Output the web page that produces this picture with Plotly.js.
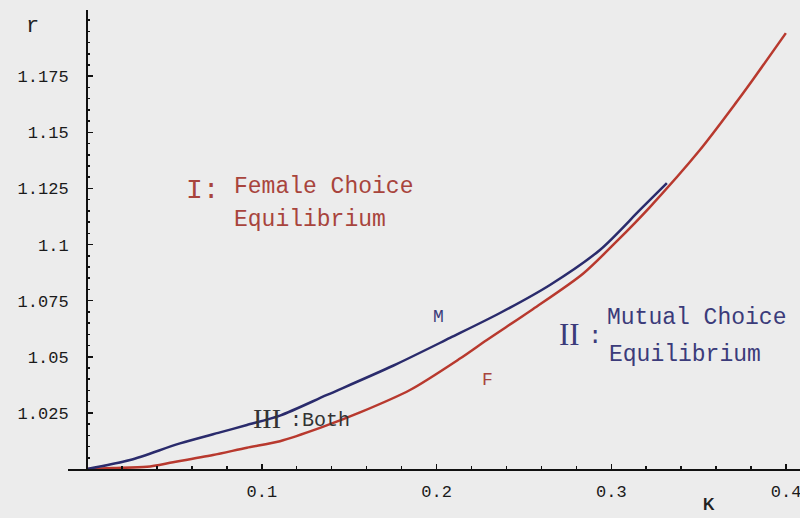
<!DOCTYPE html>
<html>
<head>
<meta charset="utf-8">
<script src="https://cdn.plot.ly/plotly-3.0.1.min.js"></script>
<style>html,body{margin:0;padding:0;background:#ececec;}</style>
</head>
<body>
<div id="chart" style="width:800px;height:518px;"></div>
<script>
// Curve M (Mutual choice boundary)
const mK = [0, 0.0246, 0.0532, 0.0761, 0.0915, 0.1104, 0.1373, 0.1751, 0.2077, 0.2363, 0.2649, 0.2935, 0.3164, 0.3318];
const mR = [1.0, 1.0040, 1.0114, 1.0163, 1.0196, 1.0238, 1.0330, 1.0460, 1.0584, 1.0695, 1.0820, 1.0976, 1.1154, 1.1274];
// Curve F (Female choice boundary)
const fK = [0, 0.0149, 0.0343, 0.0492, 0.0721, 0.0915, 0.1104, 0.1333, 0.1562, 0.1848, 0.2134, 0.2288, 0.2551, 0.2838, 0.3032, 0.3221, 0.3507, 0.3719, 0.3810, 0.3999];
const fR = [1.0, 1.0004, 1.0010, 1.0030, 1.0062, 1.0095, 1.0124, 1.0183, 1.0252, 1.0352, 1.0492, 1.0575, 1.0712, 1.0870, 1.1015, 1.1167, 1.1421, 1.1637, 1.1734, 1.1942];
// Tick labels
const xTickVals = [0.1, 0.2, 0.3, 0.4];
const xTickText = ["0.1", "0.2", "0.3", "0.4"];
const yTickVals = [1.025, 1.05, 1.075, 1.1, 1.125, 1.15, 1.175];
const yTickText = ["1.025", "1.05", "1.075", "1.1", "1.125", "1.15", "1.175"];

const blue = '#2a2b6c';
const red = '#b8392e';
const redText = '#a8443c';
const blueText = '#3b3b7a';
const mono = 'Liberation Mono, Courier New, monospace';
const serif = 'Liberation Serif, Times New Roman, serif';

const traces = [
  {x: fK, y: fR, mode: 'lines', line: {color: red, width: 2.5, shape: 'spline', smoothing: 0.8}, hoverinfo: 'skip'},
  {x: mK, y: mR, mode: 'lines', line: {color: blue, width: 2.5, shape: 'spline', smoothing: 0.8}, hoverinfo: 'skip'}
];

const layout = {
  width: 800, height: 518,
  margin: {l: 68, r: 0, t: 10, b: 49},
  paper_bgcolor: '#ececec',
  plot_bgcolor: '#ececec',
  showlegend: false,
  xaxis: {
    range: [-0.0109, 0.408],
    showgrid: false, zeroline: false,
    showline: true, linecolor: '#111', linewidth: 2,
    ticks: 'inside', ticklen: 5, tickwidth: 1.5, tickcolor: '#111',
    tickvals: xTickVals, ticktext: xTickText,
    tickfont: {family: mono, size: 17, color: '#1a1a1a'},
    ticklabelstandoff: 6,
    ticklabeloverflow: 'allow',
    minor: {dtick: 0.02, ticks: 'inside', ticklen: 3, tickcolor: '#111', showgrid: false}
  },
  yaxis: {
    range: [1.0, 1.2045],
    anchor: 'free', position: 0.026,
    showgrid: false, zeroline: false,
    showline: true, linecolor: '#111', linewidth: 2,
    ticks: 'inside', ticklen: 5, tickwidth: 1.5, tickcolor: '#111',
    tickvals: yTickVals, ticktext: yTickText,
    tickfont: {family: mono, size: 17, color: '#1a1a1a'},
    ticklabelstandoff: 14,
    minor: {dtick: 0.005, ticks: 'inside', ticklen: 2, tickcolor: '#111', showgrid: false}
  },
  annotations: [
    {x: -0.060, y: 0.995, xref: 'paper', yref: 'paper', text: 'r', showarrow: false, font: {family: mono, size: 22, color: '#222'}},
    {x: 0.886, y: -0.100, xref: 'paper', yref: 'paper', text: '<b>K</b>', showarrow: false, font: {family: 'Liberation Sans, Arial', size: 16, color: '#222'}},
    {x: 0.0664, y: 1.1243, xref: 'x', yref: 'y', text: 'I:', showarrow: false, font: {family: mono, size: 28, color: redText}},
    {x: 0.0830, y: 1.1256, xref: 'x', yref: 'y', xanchor: 'left', text: 'Female Choice', showarrow: false, font: {family: mono, size: 23, color: redText}},
    {x: 0.0830, y: 1.1109, xref: 'x', yref: 'y', xanchor: 'left', text: 'Equilibrium', showarrow: false, font: {family: mono, size: 23, color: redText}},
    {x: 0.2760, y: 1.0601, xref: 'x', yref: 'y', text: 'II', showarrow: false, font: {family: serif, size: 31, color: blueText}},
    {x: 0.2905, y: 1.0590, xref: 'x', yref: 'y', text: ':', showarrow: false, font: {family: mono, size: 24, color: blueText}},
    {x: 0.2963, y: 1.0673, xref: 'x', yref: 'y', xanchor: 'left', text: 'Mutual Choice', showarrow: false, font: {family: mono, size: 23, color: blueText}},
    {x: 0.2975, y: 1.0508, xref: 'x', yref: 'y', xanchor: 'left', text: 'Equilibrium', showarrow: false, font: {family: mono, size: 23, color: blueText}},
    {x: 0.1030, y: 1.0223, xref: 'x', yref: 'y', text: 'III', showarrow: false, font: {family: serif, size: 28, color: '#333'}},
    {x: 0.1150, y: 1.0218, xref: 'x', yref: 'y', xanchor: 'left', text: ':Both', showarrow: false, font: {family: mono, size: 20, color: '#333'}},
    {x: 0.2014, y: 1.0677, xref: 'x', yref: 'y', text: 'M', showarrow: false, font: {family: mono, size: 18, color: blueText}},
    {x: 0.2294, y: 1.0396, xref: 'x', yref: 'y', text: 'F', showarrow: false, font: {family: mono, size: 18, color: redText}}
  ]
};

Plotly.newPlot('chart', traces, layout, {displayModeBar: false, staticPlot: true});
</script>
</body>
</html>
